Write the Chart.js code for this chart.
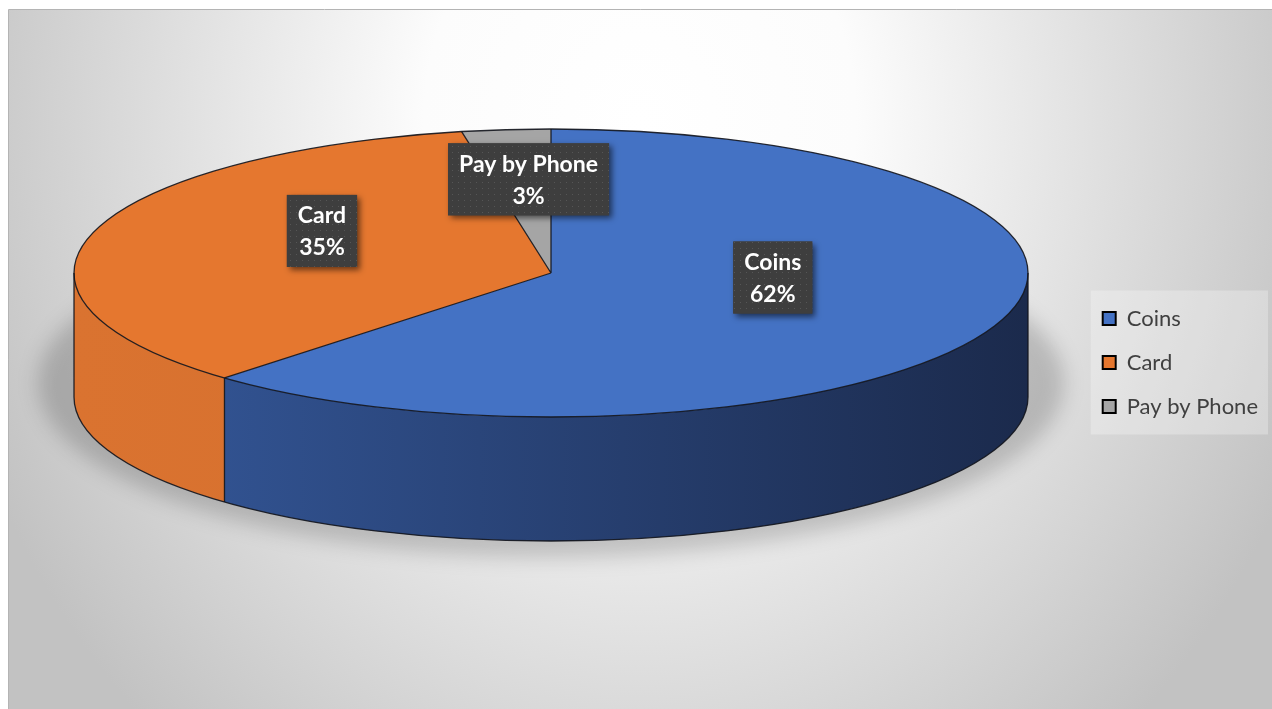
<!DOCTYPE html>
<html>
<head>
<meta charset="utf-8">
<script src="https://cdn.jsdelivr.net/npm/chart.js@4.4.1/dist/chart.umd.min.js"></script>
<style>
  html, body { margin: 0; padding: 0; background: #fff; overflow: hidden; }
  canvas { display: block; }
</style>
</head>
<body>
<canvas id="payChart" width="1272" height="709"></canvas>
<script>
// payment method split
const categories = ['Coins', 'Card', 'Pay by Phone'];
const shares = [62, 35, 3];
const topColors = ['#4472C4', '#E5772F', '#A5A5A5'];
const sideColors = [['#35599C', '#1B2A4C'], ['#DA7330', '#D06B2C'], ['#8F8F8F', '#7F7F7F']];

// where the flattened pie sits on the page (style only)
const PIE = { cx: 551, cy: 273, rx: 477, ry: 144, depth: 124 };

function sidePath(ctx, a0, a1) {
  ctx.beginPath();
  ctx.ellipse(PIE.cx, PIE.cy, PIE.rx, PIE.ry, 0, a0, a1, false);
  ctx.ellipse(PIE.cx, PIE.cy + PIE.depth, PIE.rx, PIE.ry, 0, a1, a0, true);
  ctx.closePath();
}

// dotted fill like the excel label boxes
const dots = document.createElement('canvas');
dots.width = 6; dots.height = 6;
const dctx = dots.getContext('2d');
dctx.fillStyle = '#3e3e3e'; dctx.fillRect(0, 0, 6, 6);
dctx.fillStyle = '#565656'; dctx.fillRect(2, 2, 1, 1);

const panelBg = {
  id: 'panelBg',
  beforeDraw(chart) {
    const { ctx, width, height } = chart;
    ctx.save();
    ctx.fillStyle = '#fff';
    ctx.fillRect(0, 0, width, height);
    ctx.save();
    ctx.beginPath();
    ctx.rect(8, 10, width - 8, height - 10);
    ctx.clip();
    ctx.translate(640, 120);
    ctx.scale(1, 1.15);
    const g = ctx.createRadialGradient(0, 0, 0, 0, 0, 720);
    g.addColorStop(0, '#ffffff');
    g.addColorStop(0.3, '#fcfcfc');
    g.addColorStop(1, '#c2c2c2');
    ctx.fillStyle = g;
    ctx.fillRect(-700, -200, 1400, 800);
    ctx.restore();
    ctx.strokeStyle = '#b4b4b4';
    ctx.lineWidth = 1;
    ctx.beginPath();
    ctx.moveTo(8.5, height); ctx.lineTo(8.5, 9.5); ctx.lineTo(width, 9.5);
    ctx.stroke();

    // legend panel
    const hb = chart.legend && chart.legend.legendHitBoxes;
    if (hb && hb.length) {
      const l = Math.min(...hb.map(b => b.left)) - 12;
      const r = Math.max(...hb.map(b => b.left + b.width)) + 10;
      const t = Math.min(...hb.map(b => b.top)) - 17;
      const btm = Math.max(...hb.map(b => b.top + b.height)) + 17;
      ctx.fillStyle = 'rgba(255,255,255,0.28)';
      ctx.fillRect(l, t, r - l, btm - t);
    }
    ctx.restore();
  }
};

const pie3d = {
  id: 'pie3d',
  beforeDatasetsDraw(chart) {
    const ctx = chart.ctx;
    const arcs = chart.getDatasetMeta(0).data;

    // soft shadow under the disc
    ctx.save();
    ctx.filter = 'blur(10px)';
    ctx.fillStyle = 'rgba(0,0,0,0.18)';
    ctx.beginPath();
    ctx.ellipse(PIE.cx, PIE.cy + 110, PIE.rx + 36, PIE.ry + 30, 0, 0, Math.PI * 2);
    ctx.fill();
    ctx.restore();

    // front walls
    arcs.forEach((arc, i) => {
      const a0 = Math.max(arc.startAngle, 0);
      const a1 = Math.min(arc.endAngle, Math.PI);
      if (a1 <= a0) return;
      const g = ctx.createLinearGradient(PIE.cx - PIE.rx, 0, PIE.cx + PIE.rx, 0);
      g.addColorStop(0, sideColors[i][0]);
      g.addColorStop(1, sideColors[i][1]);
      ctx.fillStyle = g;
      sidePath(ctx, a0, a1);
      ctx.fill();
    });

    // squash the library's round pie into the top face
    const a = arcs[0];
    ctx.save();
    ctx.translate(PIE.cx, PIE.cy);
    ctx.scale(PIE.rx / a.outerRadius, PIE.ry / a.outerRadius);
    ctx.translate(-a.x, -a.y);
  },
  afterDatasetsDraw(chart) {
    const ctx = chart.ctx;
    ctx.restore();
    const arcs = chart.getDatasetMeta(0).data;
    const { cx, cy, rx, ry, depth } = PIE;

    ctx.save();
    ctx.strokeStyle = 'rgba(18,20,28,0.9)';
    ctx.lineWidth = 1.3;
    ctx.lineJoin = 'round';
    ctx.beginPath();
    ctx.ellipse(cx, cy, rx, ry, 0, 0, Math.PI * 2);
    ctx.stroke();
    ctx.beginPath();
    ctx.ellipse(cx, cy + depth, rx, ry, 0, 0, Math.PI);
    ctx.stroke();
    ctx.beginPath();
    ctx.moveTo(cx + rx, cy); ctx.lineTo(cx + rx, cy + depth);
    ctx.moveTo(cx - rx, cy); ctx.lineTo(cx - rx, cy + depth);
    arcs.forEach(arc => {
      const t = arc.startAngle;
      const px = cx + rx * Math.cos(t), py = cy + ry * Math.sin(t);
      ctx.moveTo(cx, cy); ctx.lineTo(px, py);
      if (t > 0 && t < Math.PI) { ctx.moveTo(px, py); ctx.lineTo(px, py + depth); }
    });
    ctx.stroke();
    ctx.restore();

    // data labels
    const total = shares.reduce((s, v) => s + v, 0);
    const pat = ctx.createPattern(dots, 'repeat');
    arcs.forEach((arc, i) => {
      const mid = (arc.startAngle + arc.endAngle) / 2;
      const x = cx + rx * 0.5 * Math.cos(mid);
      const y = cy + ry * 0.5 * Math.sin(mid) - 22;
      const lines = [categories[i], Math.round(shares[i] / total * 100) + '%'];
      ctx.save();
      ctx.font = 'bold 23px Lato, "Open Sans", sans-serif';
      const w = Math.max(...lines.map(l => ctx.measureText(l).width)) + 22;
      const h = 72;
      ctx.shadowColor = 'rgba(0,0,0,0.55)';
      ctx.shadowBlur = 6;
      ctx.shadowOffsetX = 3;
      ctx.shadowOffsetY = 3;
      ctx.fillStyle = '#3e3e3e';
      ctx.fillRect(x - w / 2, y - h / 2, w, h);
      ctx.shadowColor = 'transparent';
      ctx.fillStyle = pat;
      ctx.fillRect(x - w / 2, y - h / 2, w, h);
      ctx.fillStyle = '#ffffff';
      ctx.textAlign = 'center';
      ctx.textBaseline = 'middle';
      ctx.fillText(lines[0], x, y - 15);
      ctx.fillText(lines[1], x, y + 17);
      ctx.restore();
    });
  }
};

function drawChart() {
  new Chart(document.getElementById('payChart'), {
    type: 'pie',
    data: {
      labels: categories,
      datasets: [{
        data: shares,
        backgroundColor: topColors,
        borderWidth: 0,
        clip: false
      }]
    },
    options: {
      responsive: false,
      animation: false,
      events: [],
      layout: { padding: { top: 16, left: 74, right: 4, bottom: 0 } },
      plugins: {
        tooltip: { enabled: false },
        legend: {
          position: 'right',
          labels: {
            font: { family: 'Lato', size: 22 },
            color: '#404040',
            boxWidth: 13,
            boxHeight: 13,
            padding: 22,
            generateLabels: () => categories.map((t, i) => ({
              text: t,
              fillStyle: topColors[i],
              strokeStyle: '#000000',
              lineWidth: 2,
              fontColor: '#404040',
              hidden: false,
              index: i
            }))
          }
        }
      }
    },
    plugins: [panelBg, pie3d]
  });
}

if (document.fonts && document.fonts.load) {
  Promise.all([
    document.fonts.load('22px Lato'),
    document.fonts.load('bold 23px Lato')
  ]).then(drawChart, drawChart);
} else {
  drawChart();
}
</script>
</body>
</html>
